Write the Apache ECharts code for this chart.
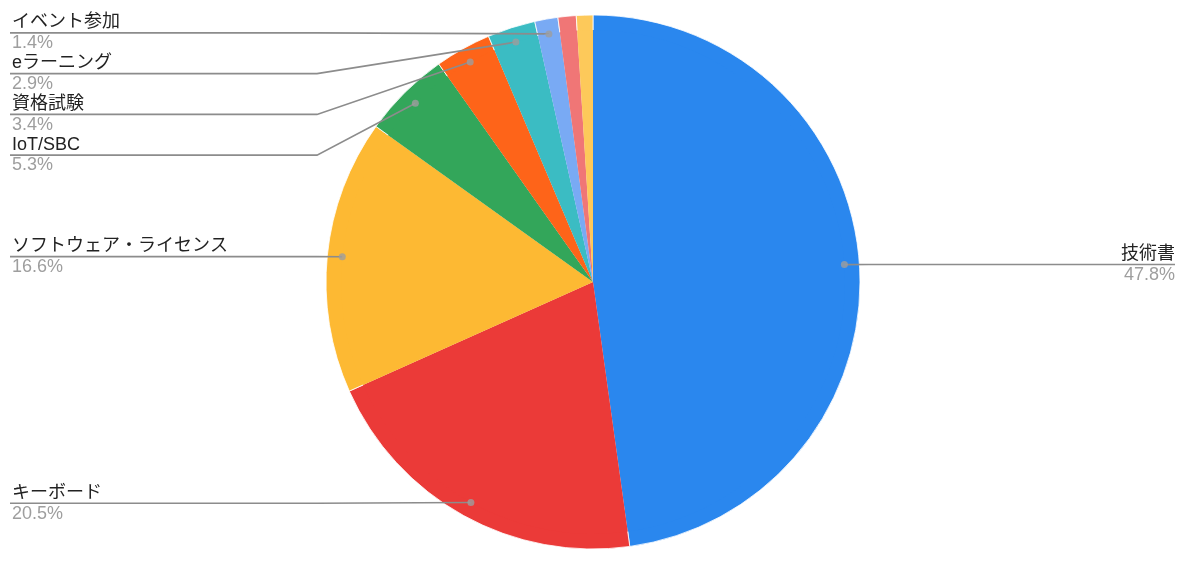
<!DOCTYPE html>
<html><head><meta charset="utf-8">
<script src="https://cdn.jsdelivr.net/npm/echarts@6/dist/echarts.min.js"></script>
<style>html,body{margin:0;padding:0;background:#fff}#c{width:1200px;height:574px}</style>
</head><body><div id="c"></div>
<script>
// ---- data ----
const categories = ['技術書', 'キーボード', 'ソフトウェア・ライセンス', 'IoT/SBC', '資格試験', 'eラーニング', 'イベント参加', 'その他1', 'その他2'];
const values = [47.8, 20.5, 16.6, 5.3, 3.4, 2.9, 1.4, 1.1, 1.0];
const labeled = [true, true, true, true, true, true, true, false, false];

// ---- style ----
const palette = ['#2a87ee', '#eb3a38', '#fdb933', '#33a65a', '#fe6419', '#3bbcc3', '#79aaf4', '#f07676', '#fdc95a'];
const CX = 593, CY = 282, R = 267, R_DOT = 252;
const FONT = '"Liberation Sans", Arial, "Noto Sans CJK JP", sans-serif';

const total = values.reduce((a, b) => a + b, 0);
const pieData = categories.map((name, i) => ({
  name, value: values[i],
  itemStyle: { color: palette[i] },
  label: { show: labeled[i], edgeDistance: i === 0 ? 25 : 12 },
  labelLine: { show: labeled[i] }
}));

// dot positions (mid angle of each slice, via polar axes)
let acc = 0;
const dots = [];
values.forEach((v, i) => {
  const mid = acc + v / 2;
  acc += v;
  if (labeled[i]) dots.push([R_DOT, mid / total * 100]);
});

const chart = echarts.init(document.getElementById('c'), null, { renderer: 'canvas' });
chart.setOption({
  animation: false,
  backgroundColor: '#fff',
  textStyle: { fontFamily: FONT },
  polar: { center: [CX, CY], radius: R },
  angleAxis: { type: 'value', min: 0, max: 100, startAngle: 90, clockwise: true, show: false },
  radiusAxis: { type: 'value', min: 0, max: R, show: false },
  series: [
    {
      type: 'pie', center: [CX, CY], radius: R, startAngle: 90, clockwise: true,
      silent: true, z: 1,
      itemStyle: { borderColor: '#fff', borderWidth: 0.8 },
      label: { show: false }, labelLine: { show: false },
      emphasis: { disabled: true },
      data: categories.map((name, i) => ({ name, value: values[i], itemStyle: { color: palette[i] } }))
    },
    {
      type: 'pie', center: [CX, CY], radius: R_DOT, startAngle: 90, clockwise: true,
      silent: true, z: 3,
      itemStyle: { color: 'rgba(0,0,0,0)', borderWidth: 0 },
      emphasis: { disabled: true },
      label: {
        position: 'outside', alignTo: 'edge', edgeDistance: 12, distanceToLabelLine: 0,
        fontFamily: FONT,
        formatter: p => '{n|' + p.name + '}\n{p|' + (p.value / total * 100).toFixed(1) + '%}',
        rich: {
          n: { fontSize: 18, color: '#222', lineHeight: 20.75, fontFamily: FONT },
          p: { fontSize: 18, color: '#9e9e9e', lineHeight: 20.75, fontFamily: FONT }
        }
      },
      labelLine: { show: true, length: 1, length2: 0, lineStyle: { color: '#8c8c8c', width: 1.6 } },
      labelLayout: function (p) {
        const pts = p.labelLinePoints;
        if (!pts || !pts.length) return {};
        const r = p.labelRect;
        const left = r.x + r.width / 2 < CX;
        const y = pts[pts.length - 1][1];
        const s = pts[0];
        const endX = left ? r.x - 2 : r.x + r.width;
        const bendX = left ? Math.min(s[0], CX - R - 9) : Math.max(s[0], CX + R + 9);
        return { labelLinePoints: [s, [bendX, y], [endX, y]] };
      },
      data: pieData
    },
    {
      type: 'scatter', coordinateSystem: 'polar', z: 4, silent: true,
      symbol: 'circle', symbolSize: 7,
      itemStyle: { color: '#9e9e9e' },
      data: dots
    }
  ]
});
</script>
</body></html>
